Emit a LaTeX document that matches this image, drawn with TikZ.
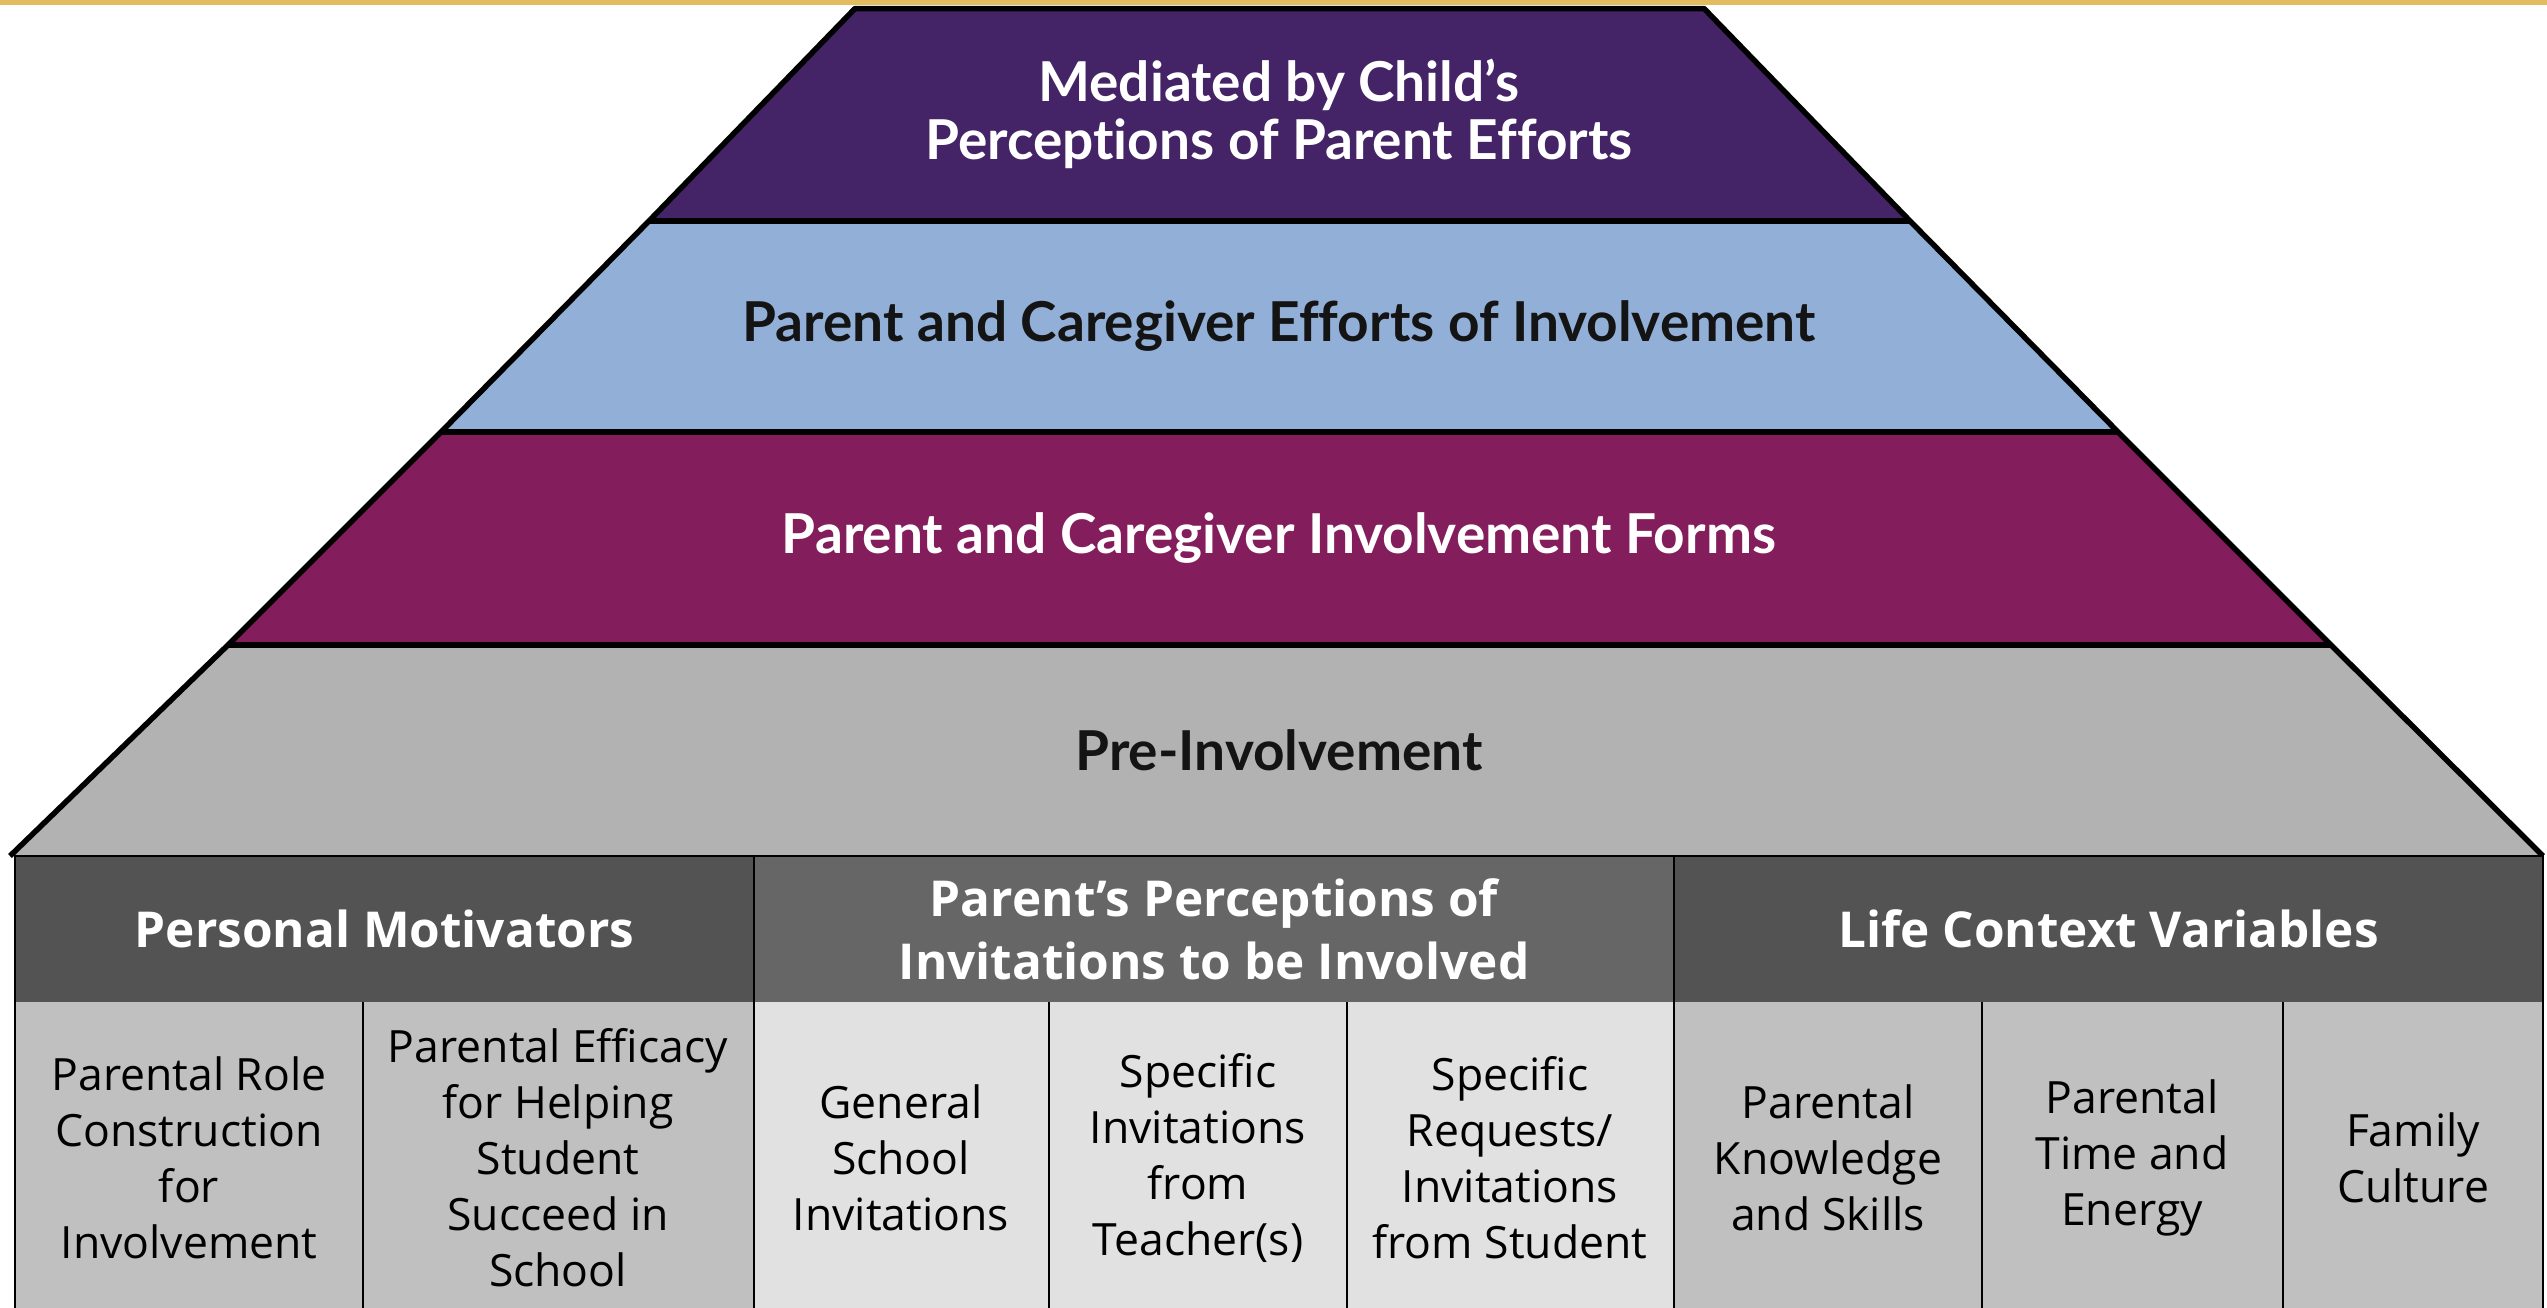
\documentclass[tikz,border=0pt]{standalone}
\usepackage{fontspec}
\setmainfont{Open Sans}
\newfontfamily\latofont[Ligatures={NoCommon}]{Lato}
\definecolor{gold}{HTML}{E3BC5F}
\definecolor{bandpurple}{HTML}{442366}
\definecolor{bandblue}{HTML}{92AFD7}
\definecolor{bandmagenta}{HTML}{841D5C}
\definecolor{bandgrey}{HTML}{B2B2B2}
\definecolor{hdrdark}{HTML}{535353}
\definecolor{hdrmid}{HTML}{666666}
\definecolor{celldark}{HTML}{C0C0C0}
\definecolor{celllight}{HTML}{E1E1E1}
\definecolor{txtdark}{HTML}{141414}
\tikzset{
  plabel/.style={font=\latofont\bfseries\fontsize{55}{58}\selectfont, align=center, inner sep=0pt},
  hdr/.style={font=\bfseries\fontsize{49.5}{63}\selectfont, text=white, align=center, inner sep=0pt},
  cellt/.style={font=\fontsize{44.5}{56}\selectfont, text=black, align=center, inner sep=0pt},
  thickline/.style={line width=5.5pt, line join=round},
  thinline/.style={line width=2pt}
}
\begin{document}
\begin{tikzpicture}[x=1pt,y=-1pt]
\useasboundingbox (0,0) rectangle (2547,1307);
\clip (0,0) rectangle (2547,1307);
% gold top rule
\fill[gold] (0,0) rectangle (2547,5);
% pyramid bands
\coordinate (L0) at (855,8.5);  \coordinate (R0) at (1704,8.5);
\coordinate (L1) at (649,221);  \coordinate (R1) at (1910,221);
\coordinate (L2) at (441,432);  \coordinate (R2) at (2118,432);
\coordinate (L3) at (228,645);  \coordinate (R3) at (2331,645);
\coordinate (L4) at (10,856);   \coordinate (R4) at (2543,856);
\fill[bandpurple]  (L0) -- (R0) -- (R1) -- (L1) -- cycle;
\fill[bandblue]    (L1) -- (R1) -- (R2) -- (L2) -- cycle;
\fill[bandmagenta] (L2) -- (R2) -- (R3) -- (L3) -- cycle;
\fill[bandgrey]    (L3) -- (R3) -- (R4) -- (L4) -- cycle;
\draw[thickline] (L4) -- (L3) -- (L2) -- (L1) -- (L0) -- (R0) -- (R1) -- (R2) -- (R3) -- (R4);
\draw[thickline] (L1) -- (R1);
\draw[thickline] (L2) -- (R2);
\draw[thickline] (L3) -- (R3);
% pyramid labels
\node[plabel, text=white] (pmed) at (1279,114) {Mediated by Child’s\\Perceptions of Parent Efforts};
\node[plabel, text=txtdark] (peff) at (1279,326) {Parent and Caregiver Efforts of Involvement};
\node[plabel, text=white] (pform) at (1279,538) {Parent and Caregiver Involvement Forms};
\node[plabel, text=txtdark] (ppre) at (1279,750) {Pre-Involvement};
% table header fills
\fill[hdrdark] (15,856) rectangle (754,1002);
\fill[hdrmid]  (754,856) rectangle (1674,1002);
\fill[hdrdark] (1674,856) rectangle (2543,1002);
% table cell fills
\fill[celldark]  (15,1002) rectangle (754,1330);
\fill[celllight] (754,1002) rectangle (1674,1330);
\fill[celldark]  (1674,1002) rectangle (2543,1330);
% table lines
\draw[thinline] (15,856) rectangle (2543,1330);
\draw[thinline] (754,856) -- (754,1330);
\draw[thinline] (1674,856) -- (1674,1330);
\draw[thinline] (363,1002) -- (363,1330);
\draw[thinline] (1049,1002) -- (1049,1330);
\draw[thinline] (1347,1002) -- (1347,1330);
\draw[thinline] (1982,1002) -- (1982,1330);
\draw[thinline] (2283,1002) -- (2283,1330);
% headers
\node[hdr] (hpm) at (384.5,929) {Personal Motivators};
\node[hdr] (hpp) at (1214,929) {Parent’s Perceptions of\\Invitations to be Involved};
\node[hdr] (hlc) at (2108.5,929) {Life Context Variables};
% cells
\node[cellt] (c1) at (189,1158) {Parental Role\\Construction\\for\\Involvement};
\node[cellt] (c2) at (558,1158) {Parental Efficacy\\for Helping\\Student\\Succeed in\\School};
\node[cellt] (c3) at (901,1158) {General\\School\\Invitations};
\node[cellt] (c4) at (1198,1158) {Specific\\Invitations\\from\\Teacher(s)};
\node[cellt] (c5) at (1510,1158) {Specific\\Requests/\\Invitations\\from Student};
\node[cellt] (c6) at (1828,1158) {Parental\\Knowledge\\and Skills};
\node[cellt] (c7) at (2132,1158) {Parental\\Time and\\Energy};
\node[cellt] (c8) at (2413,1158) {Family\\Culture};
\end{tikzpicture}
\end{document}
